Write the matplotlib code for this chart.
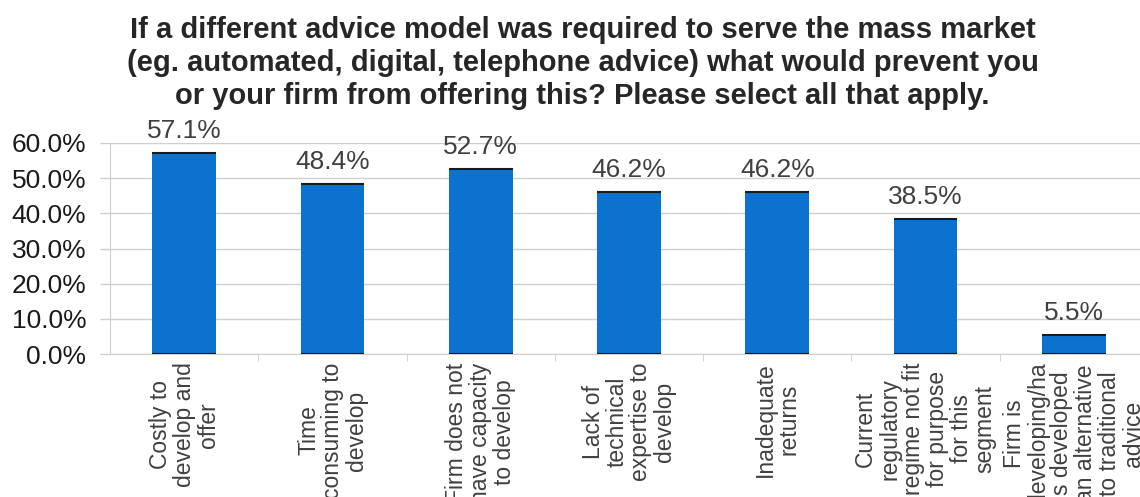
import matplotlib.pyplot as plt
from matplotlib.ticker import FuncFormatter, FixedLocator

plt.rcParams["font.family"] = ["Liberation Sans", "DejaVu Sans"]

TITLE = (
    "If a different advice model was required to serve the mass market\n"
    "(eg. automated, digital, telephone advice) what would prevent you\n"
    "or your firm from offering this? Please select all that apply."
)

categories = [
    "Costly to\ndevelop and\noffer",
    "Time\nconsuming to\ndevelop",
    "Firm does not\nhave capacity\nto develop",
    "Lack of\ntechnical\nexpertise to\ndevelop",
    "Inadequate\nreturns",
    "Current\nregulatory\nregime not fit\nfor purpose\nfor this\nsegment",
    "Firm is\ndeveloping/ha\ns developed\nan alternative\nto traditional\nadvice",
]
shares = [57.1, 48.4, 52.7, 46.2, 46.2, 38.5, 5.5]
y_ticks = [0, 10, 20, 30, 40, 50, 60]

BAR_COLOR = "#0b72cf"
TEXT_COLOR = "#404040"
GRID_COLOR = "#cfcfcf"

fig = plt.figure(figsize=(11.4, 4.97), dpi=100)
ax = fig.add_axes([110 / 1140, 143 / 497, 1038 / 1140, 211 / 497])

x = range(len(categories))
ax.bar(x, shares, width=0.43, color=BAR_COLOR, zorder=3)
# thin dark rims on the top and bottom of each bar
ax.hlines(shares, [i - 0.215 for i in x], [i + 0.215 for i in x],
          color="#1a1a1a", linewidth=1.5, zorder=4)
ax.hlines([0] * len(shares), [i - 0.215 for i in x], [i + 0.215 for i in x],
          color="#1a1a1a", linewidth=1.5, zorder=4)

for i, v in enumerate(shares):
    ax.annotate(f"{v:.1f}%", (i, v), xytext=(0, 7), textcoords="offset points",
                ha="center", va="bottom", fontsize=19, color=TEXT_COLOR)

ax.set_xlim(-0.5, len(categories) - 0.5)
ax.set_ylim(0, 60)
ax.yaxis.set_major_locator(FixedLocator(y_ticks))
ax.yaxis.set_major_formatter(FuncFormatter(lambda v, _: f"{v:.1f}%"))
ax.tick_params(axis="y", labelsize=19, labelcolor="#1a1a1a", color=GRID_COLOR,
               length=7, width=1, pad=10)
ax.grid(axis="y", color=GRID_COLOR, linewidth=1, zorder=0)

ax.set_xticks(list(x))
ax.set_xticklabels(categories, rotation=90, ha="center", va="top",
                   multialignment="center", fontsize=16.5, color=TEXT_COLOR,
                   linespacing=1.05)
ax.tick_params(axis="x", length=0, pad=6)
ax.set_xticks([i + 0.5 for i in x][:-1], minor=True)
ax.tick_params(axis="x", which="minor", length=5, color=GRID_COLOR)

for side in ("top", "right"):
    ax.spines[side].set_visible(False)
for side in ("left", "bottom"):
    ax.spines[side].set_color(GRID_COLOR)

fig.text(0.511, 0.968, TITLE, ha="center", va="top", fontsize=21,
         fontweight="bold", color="#262626", linespacing=1.24)

fig.savefig("out.png", dpi=100)
